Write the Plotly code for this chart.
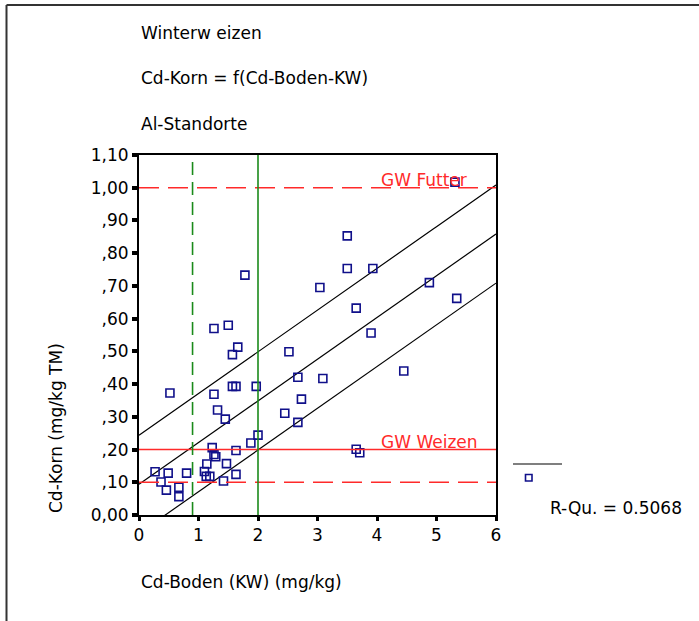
import numpy as np
import plotly.graph_objects as go

# ---- data ----
cd_boden = [0.27, 0.49, 0.37, 0.46, 0.67, 0.67, 0.80,
            1.10, 1.14, 1.13, 1.19, 1.23, 1.26, 1.29, 1.47, 1.42, 1.63, 1.63, 1.88, 2.00,
            1.45, 1.32, 1.26, 0.52, 1.57, 1.63, 1.97, 1.57, 1.66, 1.26, 1.50, 1.78,
            2.52, 2.67, 2.73, 2.45, 2.67, 3.09, 3.04, 3.50, 3.50, 3.93, 3.65, 3.90,
            3.65, 3.71, 4.45, 4.88, 5.34, 5.31]
cd_korn = [0.132, 0.128, 0.101, 0.076, 0.085, 0.056, 0.128,
           0.133, 0.156, 0.118, 0.118, 0.206, 0.185, 0.178, 0.157, 0.104, 0.197, 0.124, 0.220, 0.244,
           0.293, 0.321, 0.369, 0.373, 0.393, 0.393, 0.393, 0.490, 0.513, 0.570, 0.580, 0.733,
           0.499, 0.421, 0.354, 0.311, 0.283, 0.417, 0.695, 0.853, 0.753, 0.753, 0.632, 0.556,
           0.201, 0.190, 0.440, 0.710, 0.662, 1.017]

gw_futter = 1.00
gw_weizen = 0.20
gw_dashed_low = 0.10
boden_dashed = 0.9
boden_solid = 2.0
band_offset = 0.150  # vertical distance of the outer lines from the fit line

y_tickvals = [0.0, 0.1, 0.2, 0.3, 0.4, 0.5, 0.6, 0.7, 0.8, 0.9, 1.0, 1.1]
y_ticktext = ["0,00", ",10", ",20", ",30", ",40", ",50", ",60", ",70", ",80", ",90", "1,00", "1,10"]
x_tickvals = [0, 1, 2, 3, 4, 5, 6]

title_lines = ["Winterw eizen", "Cd-Korn = f(Cd-Boden-KW)", "Al-Standorte"]
r_squared_text = "R-Qu. = 0.5068"

# ---- linear fit ----
x = np.array(cd_boden)
y = np.array(cd_korn)
b, a = np.polyfit(x, y, 1)
xg = np.linspace(0, 6, 121)
yfit = a + b * xg

FONT = "DejaVu Sans"
W, H = 699, 621
L, R, T, B = 139, 496, 155, 515


def px(xpix):
    return (xpix - L) / (R - L)


def py(ypix):
    return (B - ypix) / (B - T)


fig = go.Figure()

for yy in (yfit + band_offset, yfit, yfit - band_offset):
    fig.add_trace(go.Scatter(x=xg, y=yy, mode="lines",
                             line=dict(color="black", width=1.2),
                             hoverinfo="skip", showlegend=False))

fig.add_trace(go.Scatter(x=cd_boden, y=cd_korn, mode="markers",
                         marker=dict(symbol="square-open", size=8,
                                     color="#10108a", line=dict(width=1.6, color="#10108a")),
                         showlegend=False))

shapes = [
    dict(type="line", xref="paper", yref="y", x0=0, x1=1, y0=gw_futter, y1=gw_futter,
         line=dict(color="#ff2a2a", width=1.5, dash="20px,9px")),
    dict(type="line", xref="paper", yref="y", x0=0, x1=1, y0=gw_dashed_low, y1=gw_dashed_low,
         line=dict(color="#ff2a2a", width=1.5, dash="20px,9px")),
    dict(type="line", xref="paper", yref="y", x0=0, x1=1, y0=gw_weizen, y1=gw_weizen,
         line=dict(color="#ff2a2a", width=1.5)),
    dict(type="line", xref="x", yref="paper", x0=boden_dashed, x1=boden_dashed, y0=0, y1=1,
         line=dict(color="#1a8a1a", width=1.6, dash="13px,7px")),
    dict(type="line", xref="x", yref="paper", x0=boden_solid, x1=boden_solid, y0=0, y1=1,
         line=dict(color="#1a8a1a", width=1.6)),
    # outer frame (top and left)
    dict(type="line", xref="paper", yref="paper", x0=px(6.5), x1=px(W + 5), y0=py(5), y1=py(5),
         line=dict(color="#333333", width=2)),
    dict(type="line", xref="paper", yref="paper", x0=px(6.5), x1=px(6.5), y0=py(5), y1=py(H + 5),
         line=dict(color="#333333", width=2)),
    # legend keys
    dict(type="line", xref="paper", yref="paper", x0=px(513), x1=px(562), y0=py(464), y1=py(464),
         line=dict(color="black", width=1.2)),
    dict(type="rect", xref="paper", yref="paper", x0=px(525.5), x1=px(532), y0=py(474.5), y1=py(481),
         line=dict(color="#10108a", width=1.6)),
]

annotations = [
    dict(text="GW Futter", x=4.03, y=gw_futter, xref="x", yref="y", xanchor="left",
         yanchor="bottom", yshift=-4, showarrow=False, font=dict(family=FONT, size=17, color="#ff2a2a")),
    dict(text="GW Weizen", x=4.03, y=gw_weizen, xref="x", yref="y", xanchor="left",
         yanchor="bottom", yshift=-4, showarrow=False, font=dict(family=FONT, size=17, color="#ff2a2a")),
    dict(text=r_squared_text, x=px(548), y=py(508), xref="paper", yref="paper", xanchor="left",
         yanchor="middle", showarrow=False, font=dict(family=FONT, size=17, color="black")),
    dict(text="Cd-Boden (KW) (mg/kg)", x=px(139), y=py(582), xref="paper", yref="paper",
         xanchor="left", yanchor="middle", showarrow=False, font=dict(family=FONT, size=17, color="black")),
    dict(text="Cd-Korn (mg/kg TM)", x=px(56), y=py(428), xref="paper", yref="paper", textangle=-90,
         xanchor="center", yanchor="middle", showarrow=False, font=dict(family=FONT, size=17, color="black")),
]
for txt, ypix in zip(title_lines, [33, 78, 124]):
    annotations.append(dict(text=txt, x=px(139), y=py(ypix), xref="paper", yref="paper",
                            xanchor="left", yanchor="middle", showarrow=False,
                            font=dict(family=FONT, size=17, color="black")))

fig.update_layout(
    width=W, height=H,
    margin=dict(l=L, r=W - R, t=T, b=H - B, pad=0),
    paper_bgcolor="white", plot_bgcolor="white",
    showlegend=False,
    shapes=shapes, annotations=annotations,
    xaxis=dict(range=[0, 6], tickvals=x_tickvals, ticks="outside", ticklen=4, tickwidth=3,
               tickcolor="black", showgrid=False, zeroline=False, showline=True, mirror=True,
               linecolor="black", linewidth=2, tickfont=dict(family=FONT, size=17, color="black")),
    yaxis=dict(range=[0, 1.1], tickvals=y_tickvals, ticktext=y_ticktext, ticks="outside",
               ticklen=5, tickwidth=4, tickcolor="black", showgrid=False, zeroline=False,
               showline=True, mirror=True, linecolor="black", linewidth=2,
               tickfont=dict(family=FONT, size=17, color="black")),
)

fig.write_html("out.html", config={"displayModeBar": False},
               post_script="document.body.style.margin='0';document.body.style.padding='0';")
